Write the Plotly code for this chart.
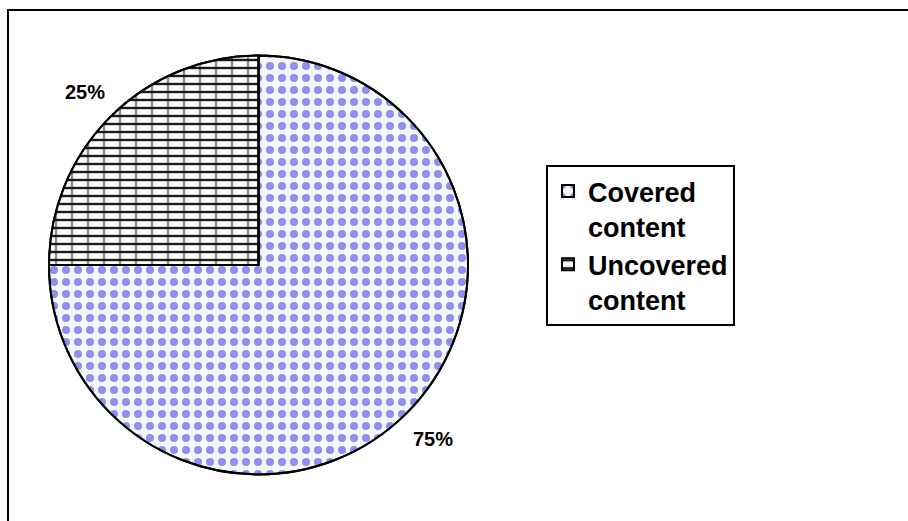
import math
import plotly.graph_objects as go

# Share of content covered by the test set
labels = ["Covered<br>content", "Uncovered<br>content"]
values = [75, 25]
fg_colors = ["#8e8ef0", "#1a1a1a"]
bg_colors = ["#f5f8fb", "#ffffff"]

W, H = 908, 521
cx, cy, r = 258.5, 265.0, 209.5  # pie centre / radius in pixels
domain = dict(x=[(cx - r) / W, (cx + r) / W],
              y=[(H - cy - r) / H, (H - cy + r) / H])

fig = go.Figure()
# Base layer: dotted fill for covered, horizontal brick courses for uncovered
fig.add_trace(go.Pie(
    labels=labels,
    values=values,
    sort=False,
    direction="clockwise",
    rotation=0,
    textinfo="none",
    hoverinfo="skip",
    marker=dict(
        colors=bg_colors,
        line=dict(color="black", width=2),
        pattern=dict(shape=[".", "-"], fgcolor=fg_colors, bgcolor=bg_colors,
                     size=[12, 8], solidity=[0.35, 0.3], fillmode="replace"),
    ),
    domain=domain,
))
# Overlay: vertical joints of the bricks on the uncovered slice
fig.add_trace(go.Pie(
    labels=labels,
    values=values,
    sort=False,
    direction="clockwise",
    rotation=0,
    textinfo="none",
    hoverinfo="skip",
    showlegend=False,
    marker=dict(
        colors=["rgba(0,0,0,0)", "rgba(0,0,0,0)"],
        line=dict(color="black", width=2),
        pattern=dict(shape=["", "|"], fgcolor=["rgba(0,0,0,0)", "#1a1a1a"],
                     bgcolor=["rgba(0,0,0,0)", "rgba(0,0,0,0)"],
                     size=[8, 16], solidity=[0.1, 0.15], fillmode="overlay"),
    ),
    domain=domain,
))

# Percentage labels placed outside each slice's mid-angle
total = sum(values)
start = 0.0
label_r = [1.175, 1.17]
annotations = []
for i, v in enumerate(values):
    frac = v / total
    mid = (start + frac / 2) * 2 * math.pi
    start += frac
    px = cx + label_r[i] * r * math.sin(mid)
    py = cy - label_r[i] * r * math.cos(mid)
    annotations.append(dict(
        x=px / W, y=1 - py / H, xref="paper", yref="paper",
        xanchor="center", yanchor="middle",
        text=f"<b>{round(frac * 100)}%</b>", showarrow=False,
        font=dict(family="Arial, Liberation Sans", size=20, color="black"),
    ))

fig.update_layout(
    width=W, height=H,
    margin=dict(l=0, r=0, t=0, b=0),
    paper_bgcolor="white",
    plot_bgcolor="white",
    annotations=annotations,
    showlegend=True,
    legend=dict(
        x=546 / W, y=1 - 165 / H, xanchor="left", yanchor="top",
        bordercolor="black", borderwidth=2, bgcolor="white",
        font=dict(family="Arial, Liberation Sans", size=27, color="black", weight="bold"),
        tracegroupgap=0, itemwidth=30, valign="top",
    ),
    shapes=[dict(type="rect", xref="paper", yref="paper",
                 x0=8 / W, x1=1.05, y0=-0.05, y1=1 - 10 / H,
                 line=dict(color="black", width=2), fillcolor="rgba(0,0,0,0)")],
)

fig.write_html("out.html")
